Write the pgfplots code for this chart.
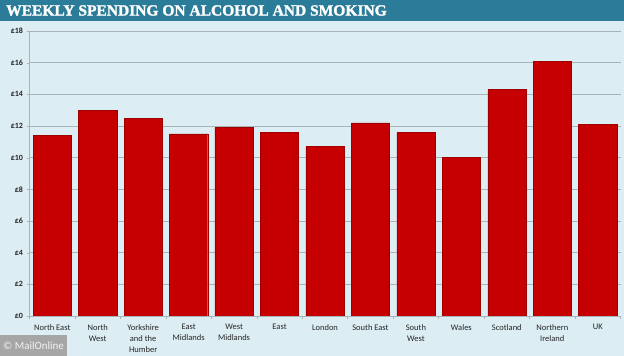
\documentclass[border=0pt]{standalone}
\usepackage{pgfplots}
\pgfplotsset{compat=1.18}
\usepackage{fontspec}
\setmainfont{Carlito}
\newfontfamily\titlefont[BoldFeatures={FakeBold=1.6}]{Liberation Serif}
\definecolor{bgc}{HTML}{DCEDF3}
\definecolor{titlec}{HTML}{2B7C98}
\definecolor{barc}{HTML}{C60000}
\definecolor{gridc}{HTML}{A9B3B8}
\begin{document}
\begin{tikzpicture}[x=1pt,y=1pt]
\fill[bgc] (0,0) rectangle (624,356);
\useasboundingbox (0,0) rectangle (624,356);
\fill[titlec] (0,335) rectangle (624,356);
\node[anchor=west,text=white,font=\titlefont\bfseries\fontsize{15.5}{16}\selectfont,inner sep=0pt] at (6,345.5) {WEEKLY SPENDING ON ALCOHOL AND SMOKING};
\begin{axis}[
  at={(29.5pt,40pt)}, anchor=south west,
  scale only axis, width=591pt, height=285pt,
  ybar, bar width=0.84,
  xmin=-0.5, xmax=12.5, ymin=0, ymax=18,
  ytick={0,2,...,18},
  yticklabel={\pounds\pgfmathprintnumber{\tick}},
  /pgf/number format/assume math mode=true,
  ymajorgrids, grid style={gridc, line width=0.8pt},
  xtick={0,...,12},
  xticklabels={North East, North\\West, Yorkshire\\and the\\Humber, East\\Midlands, West\\Midlands, East, London, South East, South\\West, Wales, Scotland, Northern\\Ireland, UK},
  xticklabel style={align=center, font=\fontsize{8.5}{11}\selectfont, text=black!85, yshift=-2pt},
  yticklabel style={font=\bfseries\fontsize{8}{9}\selectfont, text=black!85},
  axis line style={gridc, line width=0.8pt},
  axis x line*=bottom, axis y line*=left,
  x axis line style={-},y axis line style={-},
  major x tick style={draw=none},
  major y tick style={draw=gridc},
  extra x ticks={-0.5,0.5,...,12.5}, extra x tick labels={},
  extra x tick style={major x tick style={draw=gridc, line width=0.6pt}, major tick length=3pt, tick align=outside, grid=none},
  ytick align=outside, major tick length=3pt,
]
\addplot[fill=barc, draw=barc!80!black, line width=0.4pt] coordinates {
(0,11.4) (1,13.0) (2,12.5) (3,11.5) (4,11.9) (5,11.6) (6,10.7) (7,12.2) (8,11.6) (9,10.0) (10,14.3) (11,16.1) (12,12.1)};
\end{axis}
\fill[gray!70] (0,0) rectangle (67,21);
\node[anchor=west,text=white!90!gray,font=\fontsize{11}{12}\selectfont,inner sep=0pt] at (3,10) {\textcopyright\ MailOnline};
\end{tikzpicture}
\end{document}
